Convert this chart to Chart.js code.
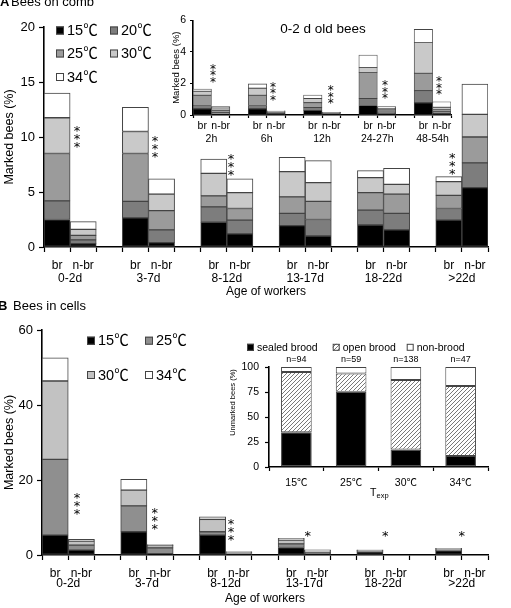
<!DOCTYPE html>
<html>
<head>
<meta charset="utf-8">
<script src="https://cdn.jsdelivr.net/npm/chart.js@4.4.1/dist/chart.umd.min.js"></script>
<style>
  html, body { margin: 0; padding: 0; background: #fff; }
  #wrap { position: relative; width: 511px; height: 608px; overflow: hidden; }
  canvas { position: absolute; }
</style>
</head>
<body>
<div id="wrap">
  <canvas id="comb" width="511" height="300" style="left:0;top:0"></canvas>
  <canvas id="young" width="295" height="140" style="left:165px;top:10px"></canvas>
  <canvas id="cells" width="511" height="318" style="left:0;top:290px"></canvas>
  <canvas id="brood" width="280" height="170" style="left:225px;top:335px"></canvas>
</div>
<script>
const FONT = "'Liberation Sans', Arial, 'Noto Sans CJK SC', sans-serif";
const STAR_FONT = "'DejaVu Sans', sans-serif";
const EDGE = '#444';

// ---- Panel A: bees on comb (values per age group: br, n-br) ----
const ageGroups = ['0-2d', '3-7d', '8-12d', '13-17d', '18-22d', '>22d'];
const combTemps = ['15℃', '20℃', '25℃', '30℃', '34℃'];
const comb15 = [2.5, 0.3, 2.65, 0.4, 2.25, 1.2, 1.95, 1.0, 2.0, 1.55, 2.45, 5.4];
const comb20 = [1.7, 0.35, 1.5, 1.15, 1.4, 1.25, 1.1, 1.5, 1.35, 1.5, 1.05, 2.25];
const comb25 = [4.3, 0.4, 4.35, 1.75, 1.0, 1.05, 1.5, 1.65, 1.6, 1.75, 1.2, 2.35];
const comb30 = [3.25, 0.55, 2.0, 1.5, 2.05, 1.45, 2.3, 1.7, 1.35, 0.9, 1.25, 2.05];
const comb34 = [2.25, 0.7, 2.2, 1.4, 1.3, 1.25, 1.3, 2.0, 0.65, 1.45, 0.45, 2.75];
const combStarSlot = [0.76, 3.75, 6.66, 15.13];
const combStarValue = [10.1, 9.2, 7.55, 7.7];
const combStarCount = [3, 3, 3, 3];

// inset: 0-2 d old bees, by hours after marking
const hourGroups = ['2h', '6h', '12h', '24-27h', '48-54h'];
const young15 = [0.4, 0.05, 0.4, 0.1, 0.28, 0.08, 0.6, 0.08, 0.78, 0.1];
const young20 = [0.2, 0.1, 0.2, 0.07, 0.2, 0.04, 0.45, 0.1, 0.76, 0.1];
const young25 = [0.65, 0.15, 0.65, 0.05, 0.3, 0.03, 1.65, 0.15, 1.1, 0.15];
const young30 = [0.25, 0.15, 0.45, 0.03, 0.27, 0.02, 0.3, 0.1, 1.96, 0.14];
const young34 = [0.15, 0.08, 0.27, 0.02, 0.22, 0.02, 0.8, 0.1, 0.82, 0.35];
const youngStarSlot = [0.59, 3.84, 6.97, 9.92, 12.85];
const youngStarValue = [2.72, 1.58, 1.33, 1.65, 1.9];
const youngStarCount = [3, 3, 3, 3, 3];

// ---- Panel B: bees in cells ----
const cellTemps = ['15℃', '25℃', '30℃', '34℃'];
const cell15 = [5.3, 1.3, 6.2, 0.3, 5.3, 0.2, 2.0, 0.3, 0.8, null, 1.1, null];
const cell25 = [20.2, 1.35, 6.9, 1.6, 0.9, 0.2, 0.95, 0.4, 0.2, null, 0.2, null];
const cell30 = [20.9, 1.05, 4.2, 0.6, 3.3, 0.3, 1.05, 0.4, 0.25, null, 0.35, null];
const cell34 = [6.2, 0.45, 2.9, 0.3, 0.7, 0.2, 0.45, 0.25, 0.1, null, 0.15, null];
const cellStarSlot = [0.83, 3.8, 6.7, 9.63, 12.58, 15.5];
const cellStarValue = [13.9, 9.9, 7.2, 5.9, 5.9, 5.9];
const cellStarCount = [3, 3, 3, 1, 1, 1];

// inset: location of unmarked bees
const texpLabels = ['15℃', '25℃', '30℃', '34℃'];
const broodTypes = ['sealed brood', 'open brood', 'non-brood'];
const sealedBrood = [34.8, 75.2, 17.6, 10.9];
const openBrood = [60.2, 18.2, 69.5, 70.2];
const nonBrood = [5.0, 6.6, 12.9, 18.9];
const sampleSizes = ['n=94', 'n=59', 'n=138', 'n=47'];

// insert an empty slot between br/n-br pairs
function toSlots(pairs) {
  const out = [];
  for (let g = 0; g < pairs.length / 2; g++) {
    if (g > 0) out.push(null);
    out.push(pairs[2 * g], pairs[2 * g + 1]);
  }
  return out;
}
function slotLabels(nGroups) {
  const out = [];
  for (let g = 0; g < nGroups; g++) {
    if (g > 0) out.push('');
    out.push('br', 'n-br');
  }
  return out;
}

function hatch() {
  const c = document.createElement('canvas');
  c.width = 4; c.height = 4;
  const g = c.getContext('2d');
  g.fillStyle = '#fff';
  g.fillRect(0, 0, 4, 4);
  g.strokeStyle = '#6a6a6a';
  g.lineWidth = 0.9;
  g.beginPath();
  g.moveTo(0, 4); g.lineTo(4, 0);
  g.moveTo(-1, 1); g.lineTo(1, -1);
  g.moveTo(3, 5); g.lineTo(5, 3);
  g.stroke();
  return g.createPattern(c, 'repeat');
}

// group labels, asterisks, in-plot legend and loose texts
function overlay(cfg) {
  return {
    id: 'overlay',
    afterDraw(chart) {
      const { ctx, chartArea: ca } = chart;
      const x = chart.scales.x, y = chart.scales.y;
      ctx.save();
      ctx.fillStyle = '#000';
      if (cfg.groups) {
        ctx.font = cfg.groupFont;
        ctx.textAlign = 'center';
        ctx.textBaseline = 'middle';
        cfg.groups.forEach((g, i) => ctx.fillText(g, x.getPixelForValue(3 * i + 0.5), ca.bottom + cfg.groupDy));
      }
      if (cfg.stars) {
        const s = cfg.stars;
        ctx.font = s.size + 'px ' + STAR_FONT;
        ctx.textAlign = 'center';
        ctx.textBaseline = 'alphabetic';
        s.slot.forEach((slot, i) => {
          const px = x.getPixelForValue(slot);
          const py = y.getPixelForValue(s.value[i]);
          const n = s.count[i];
          for (let k = 0; k < n; k++) {
            const cy = py + (k - (n - 1) / 2) * s.step;
            ctx.fillText('*', px, cy + s.size * 0.58);
          }
        });
      }
      if (cfg.legend) {
        const L = cfg.legend;
        ctx.font = L.font;
        ctx.textAlign = 'left';
        ctx.textBaseline = 'middle';
        chart.data.datasets.forEach((ds, i) => {
          const bx = L.cols[i % L.cols.length];
          const by = L.rows[Math.floor(i / L.cols.length)];
          ctx.fillStyle = ds.backgroundColor;
          ctx.fillRect(bx, by - L.box / 2, L.box, L.box);
          ctx.strokeStyle = EDGE;
          ctx.lineWidth = 1;
          ctx.strokeRect(bx + 0.5, by - L.box / 2 + 0.5, L.box - 1, L.box - 1);
          ctx.fillStyle = '#000';
          ctx.fillText(ds.label, bx + L.box + L.gap, by + 0.5);
        });
      }
      if (cfg.above) {
        ctx.font = cfg.above.font;
        ctx.textAlign = 'center';
        ctx.textBaseline = 'middle';
        cfg.above.labels.forEach((t, i) => ctx.fillText(t, x.getPixelForValue(i), ca.top + cfg.above.dy));
      }
      (cfg.texts || []).forEach(t => {
        ctx.save();
        ctx.font = t.font;
        ctx.textAlign = t.align || 'left';
        ctx.textBaseline = t.base || 'middle';
        ctx.translate(t.x, t.y);
        if (t.rot) ctx.rotate(t.rot);
        ctx.fillStyle = '#000';
        ctx.fillText(t.text, 0, 0);
        ctx.restore();
      });
      ctx.restore();
    }
  };
}

function stacked(id, o) {
  return new Chart(document.getElementById(id), {
    type: 'bar',
    data: {
      labels: o.labels,
      datasets: o.series.map((d, i) => ({
        label: o.names[i],
        data: toSlots(d),
        backgroundColor: o.colors[i],
        borderColor: EDGE,
        borderWidth: o.edge,
        borderSkipped: false,
        barPercentage: 1,
        categoryPercentage: 1
      }))
    },
    options: {
      responsive: false,
      animation: false,
      events: [],
      layout: { padding: o.pad },
      plugins: { legend: { display: false }, tooltip: { enabled: false } },
      scales: {
        x: {
          stacked: true,
          grid: { drawOnChartArea: false, color: '#000', tickLength: o.tick, tickWidth: 1.2 },
          border: { color: '#000', width: 1.6 },
          ticks: { autoSkip: false, maxRotation: 0, color: '#000', padding: o.xpad, font: { family: FONT, size: o.xfont } },
          title: o.xtitle ? { display: true, text: o.xtitle, color: '#000', font: { family: FONT, size: 12 }, padding: { top: 0, bottom: o.xtpad } } : { display: false },
          afterFit: s => { s.height = o.xh; }
        },
        y: {
          stacked: true,
          min: 0,
          max: o.ymax,
          grid: { drawOnChartArea: false, color: '#000', tickLength: o.tick, tickWidth: 1.2 },
          border: { color: '#000', width: 1.6 },
          ticks: { stepSize: o.step, color: '#000', padding: o.ypad, font: { family: FONT, size: o.yfont } },
          title: { display: true, text: 'Marked bees (%)', color: '#000', font: { family: FONT, size: o.ytfont }, padding: { top: o.ytpad, bottom: 0 } },
          afterFit: s => { s.width = o.yw; }
        }
      }
    },
    plugins: [overlay(o.overlay)]
  });
}

const combColors = ['#000', '#7d7d7d', '#9b9b9b', '#c9c9c9', '#fff'];
const cellColors = ['#000', '#8f8f8f', '#c2c2c2', '#fff'];

stacked('comb', {
  labels: slotLabels(6), names: combTemps, colors: combColors,
  series: [comb15, comb20, comb25, comb30, comb34], edge: 1,
  pad: { top: 27, right: 23, left: 0, bottom: 0 }, xh: 53, yw: 44,
  ymax: 20, step: 5, tick: 5, xpad: 6, xfont: 12, yfont: 13, ypad: 4,
  xtitle: 'Age of workers', xtpad: 0.8, ytfont: 12.5, ytpad: 2,
  overlay: {
    groups: ageGroups, groupFont: '12px ' + FONT, groupDy: 32,
    stars: { slot: combStarSlot, value: combStarValue, count: combStarCount, size: 13, step: 8 },
    legend: { cols: [56, 110], rows: [30.5, 53.5, 77], box: 8, gap: 3, font: '14.5px ' + FONT },
    texts: [
      { text: 'A', x: 0, y: 6, font: 'bold 13px ' + FONT, base: 'alphabetic' },
      { text: 'Bees on comb', x: 11, y: 6, font: '13px ' + FONT, base: 'alphabetic' }
    ]
  }
});

stacked('young', {
  labels: slotLabels(5), names: combTemps, colors: combColors,
  series: [young15, young20, young25, young30, young34], edge: 0.8,
  pad: { top: 10, right: 9, left: 0, bottom: 0 }, xh: 35, yw: 28,
  ymax: 6, step: 2, tick: 3, xpad: 1.7, xfont: 10.5, yfont: 10.5, ypad: 4,
  xtitle: null, ytfont: 9.5, ytpad: 5.3,
  overlay: {
    groups: hourGroups, groupFont: '10.5px ' + FONT, groupDy: 24,
    stars: { slot: youngStarSlot, value: youngStarValue, count: youngStarCount, size: 12, step: 6.5 },
    texts: [{ text: '0-2 d old bees', x: 158, y: 19.5, font: '13.5px ' + FONT, align: 'center' }]
  }
});

stacked('cells', {
  labels: slotLabels(6), names: cellTemps, colors: cellColors,
  series: [cell15, cell25, cell30, cell34], edge: 1,
  pad: { top: 40, right: 23, left: 0, bottom: 0 }, xh: 53, yw: 42,
  ymax: 60, step: 20, tick: 5, xpad: 6, xfont: 12, yfont: 13, ypad: 4,
  xtitle: 'Age of workers', xtpad: 1.8, ytfont: 12.5, ytpad: 2,
  overlay: {
    groups: ageGroups, groupFont: '12px ' + FONT, groupDy: 29,
    stars: { slot: cellStarSlot, value: cellStarValue, count: cellStarCount, size: 13, step: 8 },
    legend: { cols: [87, 145], rows: [50.7, 85], box: 8, gap: 3, font: '14.5px ' + FONT },
    texts: [
      { text: 'B', x: -2, y: 19.7, font: 'bold 13px ' + FONT, base: 'alphabetic' },
      { text: 'Bees in cells', x: 13, y: 19.7, font: '13px ' + FONT, base: 'alphabetic' }
    ]
  }
});

new Chart(document.getElementById('brood'), {
  type: 'bar',
  data: {
    labels: texpLabels,
    datasets: [
      { label: broodTypes[0], data: sealedBrood, backgroundColor: '#000' },
      { label: broodTypes[1], data: openBrood, backgroundColor: hatch() },
      { label: broodTypes[2], data: nonBrood, backgroundColor: '#fff' }
    ].map(ds => Object.assign(ds, { borderColor: EDGE, borderWidth: 1, borderSkipped: false, barPercentage: 0.56, categoryPercentage: 1 }))
  },
  options: {
    responsive: false,
    animation: false,
    events: [],
    layout: { padding: { top: 32, right: 17, left: 0, bottom: 0 } },
    plugins: { legend: { display: false }, tooltip: { enabled: false } },
    scales: {
      x: {
        stacked: true,
        grid: { drawOnChartArea: false, color: '#000', tickLength: 4, tickWidth: 1.2 },
        border: { color: '#000', width: 1.6 },
        ticks: { color: '#000', padding: 5.7, font: { family: FONT, size: 10.5 } },
        afterFit: s => { s.height = 38; }
      },
      y: {
        stacked: true,
        min: 0,
        max: 100,
        grid: { drawOnChartArea: false, color: '#000', tickLength: 4, tickWidth: 1.2 },
        border: { color: '#000', width: 1.6 },
        ticks: { stepSize: 25, color: '#000', padding: 6, font: { family: FONT, size: 10.5 } },
        afterFit: s => { s.width = 44; }
      }
    }
  },
  plugins: [overlay({
    legend: { cols: [22, 107.7, 181.7], rows: [12.3], box: 7, gap: 3, font: '10.5px ' + FONT },
    above: { labels: sampleSizes, font: '9px ' + FONT, dy: -7.5 },
    texts: [
      { text: 'Unmarked bees (%)', x: 8, y: 67.5, font: '7.5px ' + FONT, align: 'center', rot: -Math.PI / 2 },
      { text: 'T', x: 145, y: 158, font: '10.5px ' + FONT },
      { text: 'exp', x: 151.5, y: 161, font: '7.5px ' + FONT }
    ]
  })]
});
</script>
</body>
</html>
